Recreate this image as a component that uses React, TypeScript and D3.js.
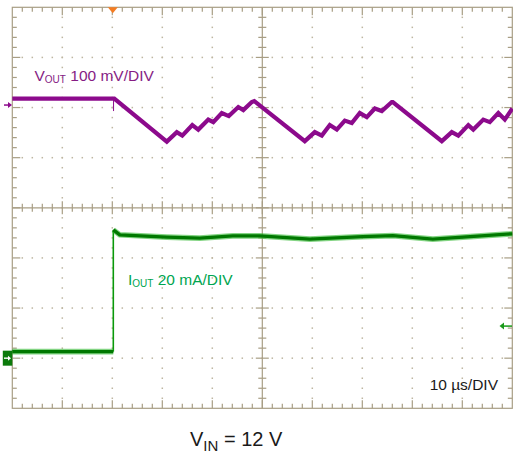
import React from "react";
import * as d3 from "d3";

// ---- data ----
// time axis: 10 µs/DIV, 10 divisions
const TIME_RANGE = [0, 100];
const DIV_RANGE = [0, 8];

// VOUT (mV, relative to channel marker), 100 mV/DIV
const VOUT_T = [0, 20.4, 30.9, 32.9, 34.0, 36.0, 37.2, 39.2, 40.2, 41.9, 43.3, 45.2, 46.2, 47.9, 48.4,
  58.5, 60.5, 61.9, 63.5, 64.9, 66.5, 67.9, 69.5, 70.9, 72.5, 73.9, 75.9, 76.1,
  85.9, 87.9, 89.2, 91.2, 92.2, 94.2, 95.5, 97.2, 98.5, 100];
const VOUT_MV = [13, 13, -73, -54, -61, -40, -49, -29, -34, -16, -22, -4, -10, 6, 8,
  -72, -54, -61, -40, -49, -31, -36, -16, -24, -7, -12, 6, 6,
  -72, -54, -61, -40, -49, -29, -34, -16, -29, -7];
const VOUT_POS_DIV = 6.05;
const VOUT_SCALE = 100; // mV per div
const VOUT_GLITCH_T = 20.25;
const VOUT_GLITCH_MV = -12;

// IOUT (mA, relative to channel marker), 20 mA/DIV
const IOUT_T = [0, 20.2, 20.2, 21.5, 30.9, 37.5, 44.1, 49.5, 59.5, 70.1, 76.1, 84.1, 90.1, 98.9, 100];
const IOUT_MA = [2.6, 2.6, 51.2, 49.2, 48.3, 47.9, 48.8, 48.8, 47.5, 48.5, 48.9, 47.5, 48.3, 49.5, 49.6];
const IOUT_POS_DIV = 1.0;
const IOUT_SCALE = 20; // mA per div

const TRIGGER_T = 20.1;
const IOUT_LEVEL_MARK_DIV = 1.64;

const LABEL_VOUT = ["V", "OUT", " 100 mV/DIV"];
const LABEL_IOUT = ["I", "OUT", " 20 mA/DIV"];
const LABEL_TIME = "10 µs/DIV";
const LABEL_VIN = ["V", "IN", " = 12 V"];

const W = 513;
const H = 455;
const FRAME = "#a89e84";
const DOT = "#bdb5a0";
const PURPLE = "#8c0a8c";
const FONT = "'Liberation Sans', Arial, sans-serif";

export default function App() {
  const x = d3.scaleLinear().domain(TIME_RANGE).range([12.3, 512.3]);
  const y = d3.scaleLinear().domain(DIV_RANGE).range([408.3, 7.3]);

  const minorX = d3.range(0, 100.001, 2);
  const minorY = d3.range(0, 8.001, 0.2);
  const majorX = d3.range(10, 100, 10);
  const majorY = d3.range(1, 8, 1);

  const isMajorX = (t: number) => Math.abs(t / 10 - Math.round(t / 10)) < 1e-6;
  const isMajorY = (d: number) => Math.abs(d - Math.round(d)) < 1e-6;

  const voutData = VOUT_T.map((t, i) => [t, VOUT_POS_DIV + VOUT_MV[i] / VOUT_SCALE] as [number, number]);
  const ioutData = IOUT_T.map((t, i) => [t, IOUT_POS_DIV + IOUT_MA[i] / IOUT_SCALE] as [number, number]);
  const line = d3.line<[number, number]>().x((d) => x(d[0])).y((d) => y(d[1]));
  const ioutLow = ioutData.slice(0, 2);
  const ioutHigh = ioutData.slice(2);

  const ticks: React.ReactNode[] = [];
  minorX.forEach((t, i) => {
    if (t === 0 || t === 100) return;
    const mj = isMajorX(t);
    const px = x(t);
    const L = mj ? 8 : 4.5;
    const C = mj ? 6.5 : 4;
    ticks.push(<line key={"tt" + i} x1={px} x2={px} y1={y(8)} y2={y(8) + L} />);
    ticks.push(<line key={"tb" + i} x1={px} x2={px} y1={y(0)} y2={y(0) - L} />);
    ticks.push(<line key={"tc" + i} x1={px} x2={px} y1={y(4) - C} y2={y(4) + C} />);
  });
  minorY.forEach((d, i) => {
    if (i === 0 || i === minorY.length - 1) return;
    const mj = isMajorY(d);
    const py = y(d);
    const L = mj ? 8 : 4.5;
    const C = mj ? 6.5 : 4;
    ticks.push(<line key={"tl" + i} x1={x(0)} x2={x(0) + L} y1={py} y2={py} />);
    ticks.push(<line key={"tr" + i} x1={x(100)} x2={x(100) - L} y1={py} y2={py} />);
    ticks.push(<line key={"tm" + i} x1={x(50) - C} x2={x(50) + C} y1={py} y2={py} />);
  });

  const dots: React.ReactNode[] = [];
  majorY.forEach((d) => {
    if (d === 4) return;
    minorX.forEach((t, i) => {
      if (t === 0 || t === 100) return;
      dots.push(<rect key={`dh${d}-${i}`} x={x(t) - 0.75} y={y(d) - 0.75} width={1.5} height={1.5} />);
    });
  });
  majorX.forEach((t) => {
    if (t === 50) return;
    minorY.forEach((d, i) => {
      if (i === 0 || i === minorY.length - 1) return;
      dots.push(<rect key={`dv${t}-${i}`} x={x(t) - 0.75} y={y(d) - 0.75} width={1.5} height={1.5} />);
    });
  });

  const vMarkY = y(VOUT_POS_DIV);
  const iMarkY = y(IOUT_POS_DIV);
  const rMarkY = y(IOUT_LEVEL_MARK_DIV);
  const trigX = x(TRIGGER_T);

  return (
    <svg width={W} height={H} style={{ position: "absolute", left: 0, top: 0, background: "#fff" }}>
      <g fill={DOT}>{dots}</g>
      <g stroke={FRAME} strokeWidth={1.2}>
        {ticks}
        <line x1={x(0)} x2={x(100)} y1={y(4)} y2={y(4)} />
        <line x1={x(50)} x2={x(50)} y1={y(0)} y2={y(8)} />
        <rect x={x(0)} y={y(8)} width={x(100) - x(0)} height={y(0) - y(8)} fill="none" />
      </g>

      {/* IOUT trace */}
      <line x1={x(IOUT_T[1])} x2={x(IOUT_T[1])} y1={y(ioutData[1][1])} y2={y(ioutData[2][1])} stroke="#0a9a0a" strokeWidth={1.6} />
      {[ioutLow, ioutHigh].map((seg, i) => (
        <g key={"io" + i}>
          <path d={line(seg) || ""} fill="none" stroke="#30b830" strokeWidth={5.6} strokeOpacity={0.6} />
          <path d={line(seg) || ""} fill="none" stroke="#007800" strokeWidth={3.4} />
        </g>
      ))}

      {/* VOUT trace */}
      <line x1={x(VOUT_GLITCH_T)} x2={x(VOUT_GLITCH_T)} y1={y(VOUT_POS_DIV + VOUT_MV[0] / VOUT_SCALE)}
        y2={y(VOUT_POS_DIV + VOUT_GLITCH_MV / VOUT_SCALE)} stroke={PURPLE} strokeWidth={1} />
      <path d={line(voutData) || ""} fill="none" stroke={PURPLE} strokeWidth={4.2} strokeLinejoin="miter" />

      {/* trigger marker */}
      <path d={`M${trigX - 5},${y(8)} L${trigX + 5},${y(8)} L${trigX},${y(8) + 6} Z`} fill="#f47c22" />

      {/* VOUT channel marker */}
      <g stroke={PURPLE} fill={PURPLE}>
        <line x1={4} x2={9} y1={vMarkY} y2={vMarkY} strokeWidth={1.5} />
        <path d={`M${12},${vMarkY} L${8},${vMarkY - 3} L${8},${vMarkY + 3} Z`} stroke="none" />
      </g>

      {/* IOUT channel marker */}
      <rect x={2.8} y={iMarkY - 7.5} width={9.5} height={15} fill="#0b7a0b" />
      <line x1={4} x2={8.5} y1={iMarkY} y2={iMarkY} stroke="#fff" strokeWidth={1.4} />
      <path d={`M${11},${iMarkY} L${8},${iMarkY - 2.5} L${8},${iMarkY + 2.5} Z`} fill="#fff" />

      {/* right level marker */}
      <line x1={504} x2={512} y1={rMarkY} y2={rMarkY} stroke="#1a9a1a" strokeWidth={1.5} />
      <path d={`M${499.5},${rMarkY} L${504},${rMarkY - 3.5} L${504},${rMarkY + 3.5} Z`} fill="#1a9a1a" />

      {/* labels */}
      <text x={34.5} y={81} fontFamily={FONT} fontSize={15.5} fill="#861c84">
        {LABEL_VOUT[0]}
        <tspan fontSize={10} dy={1.5}>{LABEL_VOUT[1]}</tspan>
        <tspan dy={-1.5}>{LABEL_VOUT[2]}</tspan>
      </text>
      <text x={128} y={285} fontFamily={FONT} fontSize={15.5} fill="#00a550">
        {LABEL_IOUT[0]}
        <tspan fontSize={10} dy={1.5}>{LABEL_IOUT[1]}</tspan>
        <tspan dy={-1.5}>{LABEL_IOUT[2]}</tspan>
      </text>
      <text x={498} y={389.5} textAnchor="end" fontFamily={FONT} fontSize={15.5} fill="#1a1a1a">
        {LABEL_TIME}
      </text>
      <text x={190} y={446} fontFamily={FONT} fontSize={20} fill="#1a1a1a">
        {LABEL_VIN[0]}
        <tspan fontSize={15} dy={4.5}>{LABEL_VIN[1]}</tspan>
        <tspan dy={-4.5}>{LABEL_VIN[2]}</tspan>
      </text>
    </svg>
  );
}
